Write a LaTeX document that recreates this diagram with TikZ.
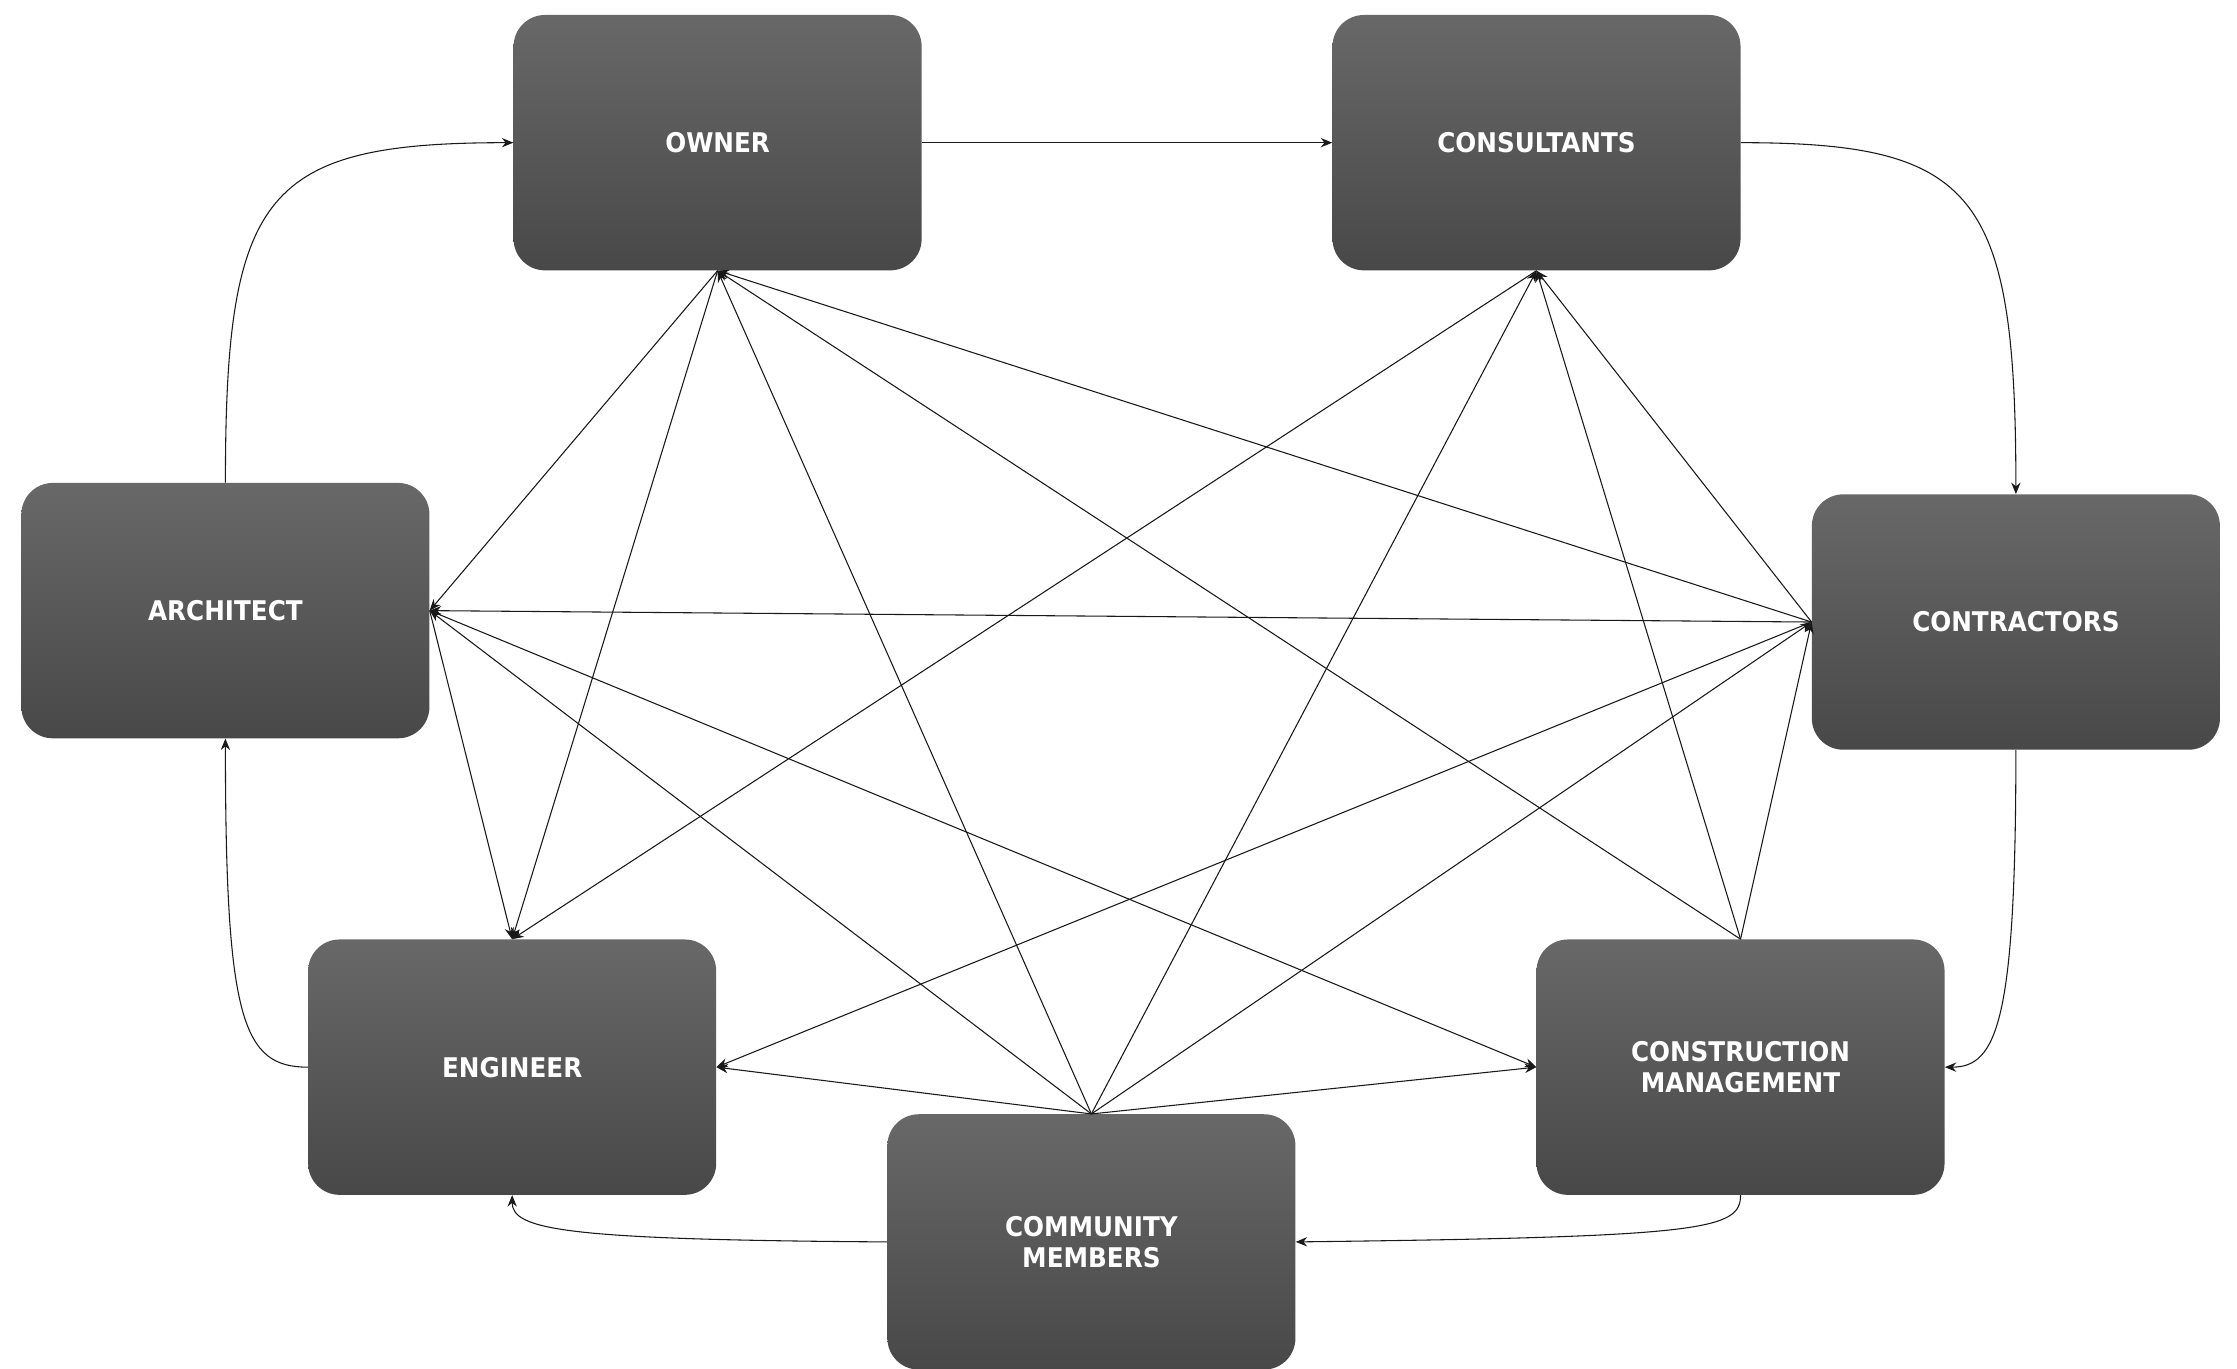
\documentclass[tikz,border=0pt]{standalone}
\usepackage{fontspec}
\setmainfont{DejaVu Sans}[FakeStretch=0.91]
\usetikzlibrary{arrows.meta}
\definecolor{boxtop}{RGB}{104,104,104}
\definecolor{boxbot}{RGB}{72,72,72}
\definecolor{edgecol}{RGB}{25,25,25}
\tikzset{
  box/.style={rounded corners=22pt, top color=boxtop, bottom color=boxbot, draw=none,
    minimum width=286pt, minimum height=179pt, text=white, align=center,
    font=\fontsize{19}{22}\selectfont\bfseries, inner sep=0pt},
  conn/.style={draw=edgecol, line width=0.75pt, -{Stealth[length=8pt,width=6.5pt]}}
}
\begin{document}
\begin{tikzpicture}[x=1pt,y=-1pt]
\useasboundingbox (0,0) rectangle (1568,959);
\begin{scope}
\clip (0,0) rectangle (1568,959);
\node[box] (owner) at (503,100) {OWNER};
\node[box] (cons) at (1077,100) {CONSULTANTS};
\node[box] (arch) at (158,428) {ARCHITECT};
\node[box] (contr) at (1413,436) {CONTRACTORS};
\node[box] (eng) at (359,748) {ENGINEER};
\node[box] (cm) at (1220,748) {CONSTRUCTION\\MANAGEMENT};
\node[box] (comm) at (765,870.5) {COMMUNITY\\MEMBERS};
\end{scope}
% ring of curved connectors
\draw[conn] (owner.east) -- (cons.west);
\draw[conn] (cons.east) .. controls (1385,100) and (1413,135) .. (contr.north);
\draw[conn] (contr.south) .. controls (1413,715) and (1400,748) .. (cm.east);
\draw[conn] (cm.south) .. controls (1220,862) and (1195,867) .. (comm.east);
\draw[conn] (comm.west) .. controls (395,869) and (359,862) .. (eng.south);
\draw[conn] (eng.west) .. controls (170,748) and (158,715) .. (arch.south);
\draw[conn] (arch.north) .. controls (158,135) and (185,100) .. (owner.west);
% straight connectors
\draw[conn] (owner.south) -- (arch.east);
\draw[conn] (owner.south) -- (eng.north);
\draw[conn] (arch.east) -- (eng.north);
\draw[conn] (arch.east) -- (cm.west);
\draw[conn] (cons.south) -- (eng.north);
\draw[conn] (comm.north) -- (owner.south);
\draw[conn] (comm.north) -- (cons.south);
\draw[conn] (comm.north) -- (arch.east);
\draw[conn] (comm.north) -- (eng.east);
\draw[conn] (comm.north) -- (cm.west);
\draw[conn] (comm.north) -- (contr.west);
\draw[conn] (cm.north) -- (owner.south);
\draw[conn] (cm.north) -- (cons.south);
\draw[conn] (cm.north) -- (contr.west);
\draw[conn] (contr.west) -- (owner.south);
\draw[conn] (contr.west) -- (cons.south);
\draw[conn] (contr.west) -- (arch.east);
\draw[conn] (contr.west) -- (eng.east);
\end{tikzpicture}
\end{document}
